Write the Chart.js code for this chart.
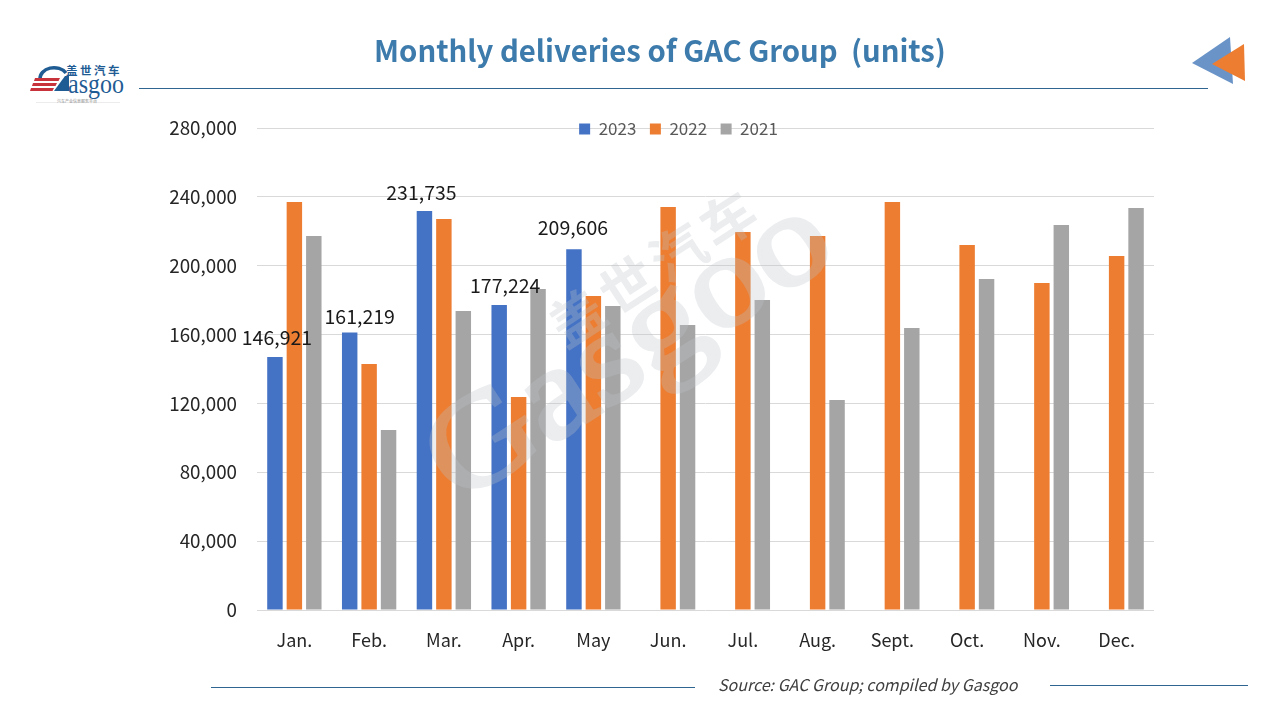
<!DOCTYPE html>
<html>
<head>
<meta charset="utf-8">
<title>Monthly deliveries of GAC Group</title>
<script src="https://cdn.jsdelivr.net/npm/chart.js@4"></script>
<style>
  html, body { margin: 0; padding: 0; background: #fff; overflow: hidden; }
  #page { position: relative; width: 1280px; height: 720px; font-family: "Noto Sans CJK SC", "Noto Sans", sans-serif; }
  #chart { position: absolute; left: 0; top: 0; }
  #deco, #watermark { position: absolute; left: 0; top: 0; }
  #watermark { pointer-events: none; }
  #title { position: absolute; left: 260px; width: 800px; top: 26px; text-align: center; white-space: pre; font-size: 29.3px; line-height: 46px; font-weight: 700; color: #3c7bab; }
  #source { position: absolute; left: 718px; top: 672px; font-size: 16px; line-height: 24px; font-style: italic; color: #404040; white-space: nowrap; }
</style>
</head>
<body>
<div id="page">
  <svg id="deco" width="1280" height="720">
    <line x1="139" y1="88.5" x2="1208" y2="88.5" stroke="#2f6591" stroke-width="1"/>
    <line x1="211" y1="687.5" x2="695" y2="687.5" stroke="#2f6591" stroke-width="1"/>
    <line x1="1050" y1="685.5" x2="1248" y2="685.5" stroke="#2f6591" stroke-width="1"/>
    <polygon points="1192,63 1230,37 1233,84" fill="#6a94c8"/>
    <polygon points="1212,64 1244,44 1245,81" fill="#ed7d31"/>
    <!-- logo -->
    <path d="M40 79 A14 11 0 0 1 66 73" fill="none" stroke="#1f5c94" stroke-width="3.5"/>
    <polygon points="35,78 60,78 58.5,81 34,81" fill="#c8323a"/>
    <polygon points="33,83 57,83 55.5,86 32,86" fill="#c8323a"/>
    <polygon points="31,88 54,88 52.5,91 30,91" fill="#c8323a"/>
    <polygon points="54,91 65,76 69,76 69,91" fill="#1f5c94"/>
    <text x="66" y="75" font-size="11.5" font-weight="700" fill="#1f5c94" letter-spacing="2.5" font-family="Noto Sans CJK SC">盖世汽车</text>
    <text x="68" y="93" font-size="27" fill="#1f5c94" font-family="Liberation Serif" textLength="56" lengthAdjust="spacingAndGlyphs">asgoo</text>
    <line x1="36" y1="102.5" x2="120" y2="102.5" stroke="#ececec" stroke-width="1"/>
    <text x="57" y="103" font-size="4" fill="#8a8a8a" font-family="Noto Sans CJK SC">汽车产业信息服务平台</text>
  </svg>
  <canvas id="chart" width="1280" height="720"></canvas>
  <svg id="watermark" width="1280" height="720">
    <g transform="translate(458 505) rotate(-33)" fill="#bcc2c8" opacity="0.3">
      <text x="0" y="0" font-size="130" font-family="Liberation Serif" stroke="#bcc2c8" stroke-width="4" textLength="455" lengthAdjust="spacingAndGlyphs">Gasgoo</text>
      <text x="175" y="-72" font-size="54" font-weight="700" letter-spacing="6" font-family="Noto Sans CJK SC">盖世汽车</text>
    </g>
  </svg>
  <div id="title">Monthly deliveries of GAC Group  (units)</div>
  <div id="source">Source: GAC Group; compiled by Gasgoo</div>
</div>

<script>
const months = ['Jan.', 'Feb.', 'Mar.', 'Apr.', 'May', 'Jun.', 'Jul.', 'Aug.', 'Sept.', 'Oct.', 'Nov.', 'Dec.'];
const deliveries2023 = [146921, 161219, 231735, 177224, 209606];
const deliveries2022 = [237000, 142900, 227100, 123700, 182400, 234100, 219600, 217300, 237000, 212000, 190000, 205600];
const deliveries2021 = [217300, 104600, 173700, 186500, 176600, 165600, 180100, 122000, 163800, 192300, 223600, 233500];

// the labels were hand placed in the original, so they sit a bit off the bars
const labelShiftX = [2, 10, -3, 6, -1];
const labelShiftY = [19, 16, 18, 19, 22];

const chartFont = '"Noto Sans CJK SC", "Noto Sans", sans-serif';

// legend sits on top of the plot, so it only takes a little layout height
const legendOverlay = {
  id: 'legendOverlay',
  beforeInit(chart) {
    const fit = chart.legend.fit;
    chart.legend.fit = function () {
      fit.call(this);
      this.height = 21;
    };
  },
  afterLayout(chart) {
    const legend = chart.legend;
    legend.left -= 27;
    legend.right -= 27;
    legend.bottom = legend.top + 40;
  }
};

const valueLabels = {
  id: 'valueLabels',
  afterDatasetsDraw(chart) {
    const ctx = chart.ctx;
    const bars = chart.getDatasetMeta(0).data;
    ctx.save();
    ctx.font = '19.5px ' + chartFont;
    ctx.fillStyle = '#1a1a1a';
    ctx.textAlign = 'center';
    ctx.textBaseline = 'middle';
    bars.forEach((bar, i) => {
      const text = deliveries2023[i].toLocaleString('en-US');
      ctx.fillText(text, bar.x + labelShiftX[i], bar.y - labelShiftY[i]);
    });
    ctx.restore();
  }
};

new Chart(document.getElementById('chart'), {
  type: 'bar',
  data: {
    labels: months,
    datasets: [
      { label: '2023', data: deliveries2023, backgroundColor: '#4472c4' },
      { label: '2022', data: deliveries2022, backgroundColor: '#ed7d31' },
      { label: '2021', data: deliveries2021, backgroundColor: '#a5a5a5' }
    ]
  },
  plugins: [legendOverlay, valueLabels],
  options: {
    responsive: false,
    animation: false,
    categoryPercentage: 0.78,
    barPercentage: 0.795,
    layout: { padding: { left: 150, right: 126, top: 107, bottom: 0 } },
    plugins: {
      tooltip: { enabled: false },
      legend: {
        position: 'top',
        fullSize: false,
        labels: {
          boxWidth: 11,
          boxHeight: 11,
          padding: 13.5,
          color: '#595959',
          font: { family: chartFont, size: 17 }
        }
      }
    },
    scales: {
      x: {
        grid: { display: false },
        border: { display: false },
        ticks: { color: '#262626', padding: 11, font: { family: chartFont, size: 18 } },
        afterFit(scale) { scale.height = 110; }
      },
      y: {
        min: 0,
        max: 280000,
        grid: { color: '#d9d9d9', drawTicks: false },
        border: { display: false },
        ticks: {
          stepSize: 40000,
          color: '#262626',
          padding: 20,
          font: { family: chartFont, size: 18.8 },
          callback: (v) => v.toLocaleString('en-US')
        },
        afterFit(scale) { scale.width = 107; }
      }
    }
  }
});
</script>
</body>
</html>
